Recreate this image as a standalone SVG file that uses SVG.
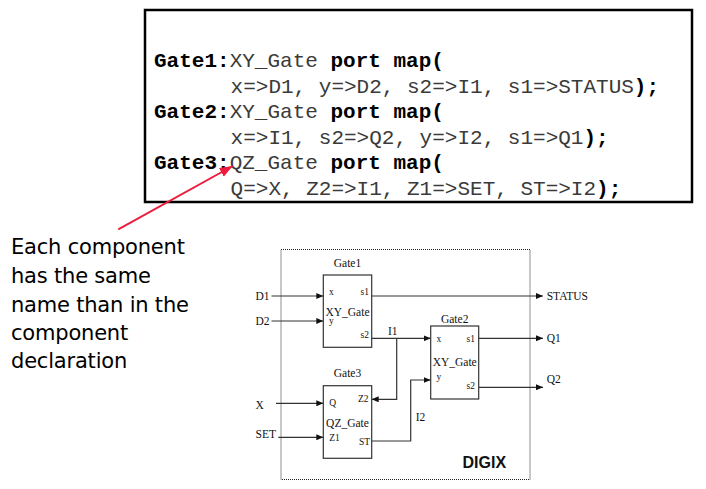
<svg xmlns="http://www.w3.org/2000/svg" width="706" height="489" viewBox="0 0 706 489">
<defs>
<style>
.code{font-family:"Liberation Mono","Courier New",monospace;font-size:21px;fill:#3a3a3a;}
.b{font-weight:bold;fill:#000;}
.lbl{font-family:"Liberation Serif","Times New Roman",serif;font-size:11.5px;fill:#111;}
.port{font-family:"Liberation Serif","Times New Roman",serif;font-size:9.5px;fill:#111;}
.note{font-family:"DejaVu Sans",Verdana,sans-serif;font-size:21px;letter-spacing:-0.2px;fill:#000;}
.gate{fill:#fff;stroke:#333;stroke-width:1.2;}
.wire{fill:none;stroke:#333;stroke-width:1.2;}
</style>
<marker id="ah" markerUnits="userSpaceOnUse" markerWidth="8" markerHeight="6" refX="7" refY="3" orient="auto">
<path d="M0,0 L7,3 L0,6 Z" fill="#111"/>
</marker>
<marker id="red" markerUnits="userSpaceOnUse" markerWidth="14" markerHeight="12" refX="13" refY="5" orient="auto">
<path d="M0,0 L13,5 L0,10 Z" fill="#ee1c3c"/>
</marker>
</defs>

<g id="code-box">
<rect x="145" y="10" width="547" height="192" fill="#fff" stroke="#000" stroke-width="2.5"/>
<text class="code" x="154" y="67"><tspan class="b">Gate1:</tspan>XY_Gate <tspan class="b">port map(</tspan></text>
<text class="code" x="230.6" y="92.5">x=&gt;D1, y=&gt;D2, s2=&gt;I1, s1=&gt;STATUS<tspan class="b">);</tspan></text>
<text class="code" x="154" y="118"><tspan class="b">Gate2:</tspan>XY_Gate <tspan class="b">port map(</tspan></text>
<text class="code" x="230.6" y="143.5">x=&gt;I1, s2=&gt;Q2, y=&gt;I2, s1=&gt;Q1<tspan class="b">);</tspan></text>
<text class="code" x="154" y="169"><tspan class="b">Gate3:</tspan>QZ_Gate <tspan class="b">port map(</tspan></text>
<text class="code" x="230.6" y="194.5">Q=&gt;X, Z2=&gt;I1, Z1=&gt;SET, ST=&gt;I2<tspan class="b">);</tspan></text>
</g>

<g id="note">
<line x1="118.3" y1="229.3" x2="232.7" y2="166" stroke="#ee1c3c" stroke-width="2" marker-end="url(#red)"/>
<text class="note" x="11" y="254">Each component</text>
<text class="note" x="11" y="283">has the same</text>
<text class="note" x="11" y="312">name than in the</text>
<text class="note" x="11" y="340">component</text>
<text class="note" x="11" y="368">declaration</text>
</g>

<g id="digix">
<rect x="281" y="249.5" width="249" height="230" fill="none" stroke="#222" stroke-width="1" stroke-dasharray="1,1"/>
<text x="462.5" y="468" font-family="'Liberation Sans',Arial,sans-serif" font-size="16" font-weight="bold" fill="#111">DIGIX</text>
</g>

<g id="connectors">
<line class="wire" x1="271.5" y1="296" x2="323.3" y2="296" marker-end="url(#ah)"/>
<line class="wire" x1="271.5" y1="321" x2="323.3" y2="321" marker-end="url(#ah)"/>
<line class="wire" x1="371.7" y1="296" x2="543" y2="296" marker-end="url(#ah)"/>
<line class="wire" x1="371.7" y1="338.3" x2="430.7" y2="338.3" marker-end="url(#ah)"/>
<polyline class="wire" points="396.7,338.3 396.7,399.3 371.7,399.3" marker-end="url(#ah)"/>
<line class="wire" x1="478.7" y1="338.3" x2="543" y2="338.3" marker-end="url(#ah)"/>
<line class="wire" x1="478.7" y1="387.3" x2="543" y2="387.3" marker-end="url(#ah)"/>
<line class="wire" x1="276" y1="403.3" x2="323.3" y2="403.3" marker-end="url(#ah)"/>
<line class="wire" x1="278.3" y1="437.3" x2="323.3" y2="437.3" marker-end="url(#ah)"/>
<polyline class="wire" points="371.7,441 410.7,441 410.7,380 430.7,380" marker-end="url(#ah)"/>
<text class="lbl" x="255.5" y="299.5">D1</text>
<text class="lbl" x="255.5" y="324.5">D2</text>
<text class="lbl" x="255.5" y="409.3">X</text>
<text class="lbl" x="255.5" y="438.3">SET</text>
<text class="lbl" x="546.7" y="299.5">STATUS</text>
<text class="lbl" x="546.7" y="341.7">Q1</text>
<text class="lbl" x="546.7" y="382.7">Q2</text>
<text class="lbl" x="388" y="335">I1</text>
<text class="lbl" x="415.7" y="420.7">I2</text>
</g>

<g id="gate1">
<rect class="gate" x="323.3" y="275" width="48.4" height="72.3"/>
<text class="lbl" x="347.5" y="266.7" text-anchor="middle">Gate1</text>
<text class="port" x="329" y="295">x</text>
<text class="port" x="360.5" y="295">s1</text>
<text class="lbl" x="347.5" y="315.5" text-anchor="middle">XY_Gate</text>
<text class="port" x="329" y="324">y</text>
<text class="port" x="360.5" y="338">s2</text>
</g>

<g id="gate2">
<rect class="gate" x="430.7" y="326" width="48" height="73"/>
<text class="lbl" x="454.7" y="323.3" text-anchor="middle">Gate2</text>
<text class="port" x="436.5" y="341.7">x</text>
<text class="port" x="466.5" y="341.7">s1</text>
<text class="lbl" x="454.7" y="366" text-anchor="middle">XY_Gate</text>
<text class="port" x="436.5" y="380">y</text>
<text class="port" x="466.5" y="389.3">s2</text>
</g>

<g id="gate3">
<rect class="gate" x="323.3" y="385.7" width="48.4" height="72.6"/>
<text class="lbl" x="347.5" y="377.3" text-anchor="middle">Gate3</text>
<text class="port" x="329.3" y="406">Q</text>
<text class="port" x="358" y="401.7">Z2</text>
<text class="lbl" x="347.5" y="426.7" text-anchor="middle">QZ_Gate</text>
<text class="port" x="329.3" y="440.7">Z1</text>
<text class="port" x="359" y="445">ST</text>
</g>
</svg>
